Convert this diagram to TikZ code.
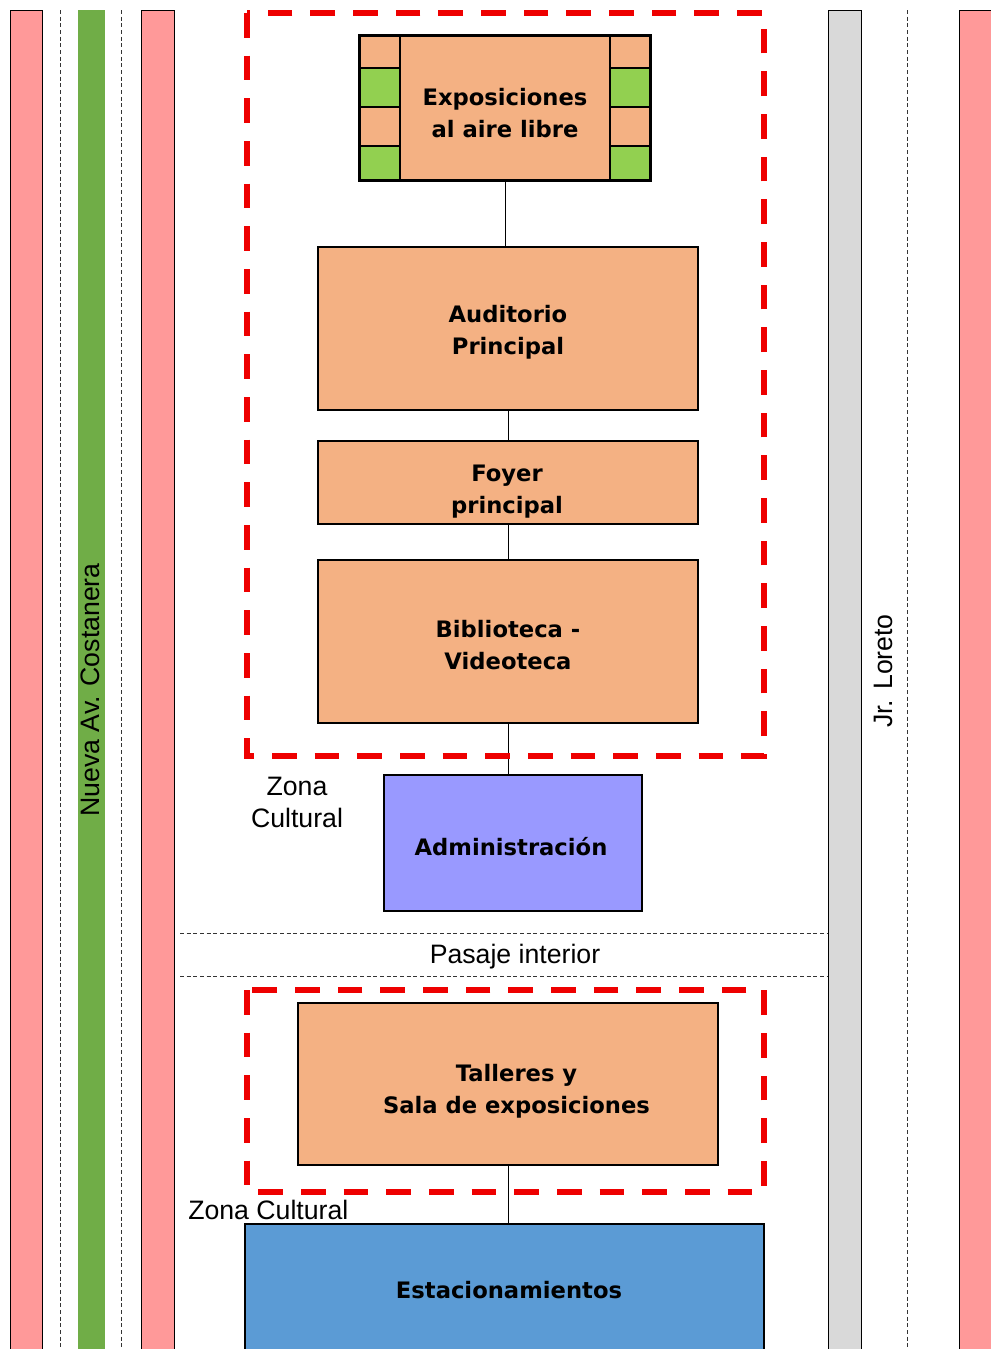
\documentclass[tikz,border=0pt]{standalone}
\usepackage{fontspec}
\setmainfont{Liberation Sans}
\newfontfamily\boxfont{DejaVu Sans}
\definecolor{orng}{HTML}{F4B183}
\definecolor{lgreen}{HTML}{92D050}
\definecolor{dgreen}{HTML}{70AD47}
\definecolor{pinkst}{HTML}{FF9999}
\definecolor{grayst}{HTML}{D9D9D9}
\definecolor{admblue}{HTML}{9999FF}
\definecolor{estblue}{HTML}{5B9BD5}
\definecolor{zred}{HTML}{EE0000}
\tikzset{
  roombox/.style={draw=black, line width=1.5pt, fill=orng, inner sep=0pt},
  roomtext/.style={align=center, inner sep=0pt, font=\boxfont\bfseries\fontsize{17}{24}\selectfont},
  strip/.style={draw=black, line width=0.6pt},
  thindash/.style={draw=black!80, line width=0.6pt, dash pattern=on 3pt off 2pt},
  zone/.style={draw=zred, line width=3.8pt, dash pattern=on 18.5pt off 13.5pt},
  link/.style={draw=black, line width=0.7pt},
  plain/.style={font=\fontsize{20}{24}\selectfont, align=center, inner sep=0pt}
}
\begin{document}
\begin{tikzpicture}[x=0.75pt,y=-0.75pt]
\useasboundingbox (0,0) rectangle (991,1349);
\fill[white] (0,0) rectangle (991,1349);
% strips
\path[strip, fill=pinkst] (10,10) rectangle (42,1360);
\path[strip, draw=none, fill=dgreen] (78,10) rectangle (105,1360);
\path[strip, fill=pinkst] (141,10) rectangle (174,1360);
\path[strip, fill=grayst] (828,10) rectangle (861,1360);
\path[strip, fill=pinkst] (959,10) rectangle (1000,1360);
\draw[thindash] (60,10) -- (60,1360);
\draw[thindash] (121,10) -- (121,1360);
\draw[thindash] (907,10) -- (907,1360);
\node[plain, rotate=90] (costanera) at (90,690) {Nueva Av. Costanera};
\node[plain, rotate=90] (loreto) at (883,671) {Jr. Loreto};
% pasaje
\draw[thindash] (180,933) -- (828,933);
\draw[thindash] (180,976) -- (828,976);
\node[plain] (pasaje) at (515,957) {Pasaje interior};
% rooms
\node[roombox, minimum width=217.5pt, minimum height=108pt] (expo) at (505,108) {};
\foreach \x in {360,610}{
  \path[draw=black, line width=1pt, fill=orng] (\x,36) rectangle ++(40,32);
  \path[draw=black, line width=1pt, fill=lgreen] (\x,68) rectangle ++(40,39);
  \path[draw=black, line width=1pt, fill=orng] (\x,107) rectangle ++(40,39);
  \path[draw=black, line width=1pt, fill=lgreen] (\x,146) rectangle ++(40,34);
}
\draw[line width=1.5pt] (expo.north west) rectangle (expo.south east);
\node[roomtext] (expotext) at (505,113) {Exposiciones\\al aire libre};
\node[roombox, minimum width=285pt, minimum height=122.25pt] (aud) at (508,328.5) {};
\node[roomtext] (audtext) at (508,332) {Auditorio\\Principal};
\node[roombox, minimum width=285pt, minimum height=62.25pt] (foy) at (508,482.5) {};
\node[roomtext] (foytext) at (507,492) {Foyer\\principal};
\node[roombox, minimum width=285pt, minimum height=122.25pt] (bib) at (508,641.5) {};
\node[roomtext] (bibtext) at (508,645.5) {Biblioteca -\\Videoteca};
\node[roombox, fill=admblue, minimum width=193.5pt, minimum height=102pt] (adm) at (513,843) {};
\node[roomtext] (admtext) at (511,847) {Administración};
\node[roombox, minimum width=315pt, minimum height=121.5pt] (tal) at (508,1084) {};
\node[roomtext] (taltext) at (516.5,1091) {Talleres y\\Sala de exposiciones};
\node[roombox, fill=estblue, minimum width=389.25pt, minimum height=99pt] (est) at (504.5,1290) {};
\node[roomtext] (esttext) at (509,1290) {Estacionamientos};
% connectors
\draw[link] (expo.south) -- (expo.south |- aud.north);
\draw[link] (aud.south) -- (foy.north);
\draw[link] (foy.south) -- (bib.north);
\draw[link] (bib.south) -- (bib.south |- adm.north);
\draw[link] (tal.south) -- (tal.south |- est.north);
% zones
\draw[zone] (247,13) rectangle (764,756);
\draw[zone] (247,990) rectangle (764,1192);
\node[plain] (zona1) at (297,802) {Zona\\Cultural};
\node[plain, anchor=west] (zona2) at (188,1210) {Zona Cultural};
\end{tikzpicture}
\end{document}
